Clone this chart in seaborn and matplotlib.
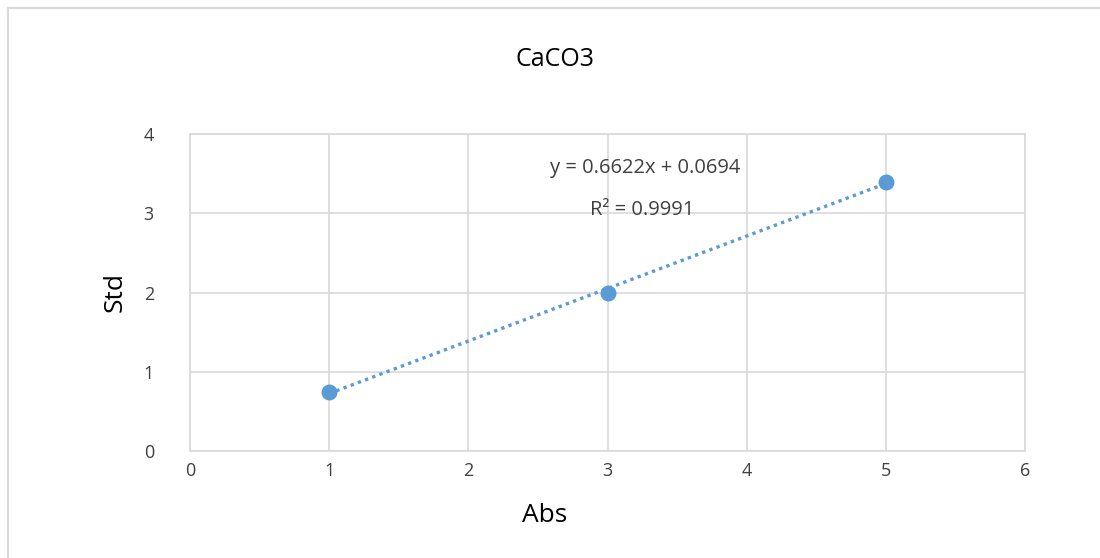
import matplotlib
matplotlib.use("Agg")
import matplotlib.pyplot as plt
import seaborn as sns
import numpy as np
import pandas as pd

abs_vals = [1, 3, 5]
std_vals = [0.75, 2.0, 3.4]
x_ticks = [0, 1, 2, 3, 4, 5, 6]
y_ticks = [0, 1, 2, 3, 4]
title = "CaCO3"
eq_text = "y = 0.6622x + 0.0694"
r2_text = "R² = 0.9991"

sns.set_theme(style="white")
plt.rcParams['font.family'] = ['Open Sans', 'DejaVu Sans']

df = pd.DataFrame({"Abs": abs_vals, "Std": std_vals})
color = "#5B9BD5"
grid_c = "#D9D9D9"

fig = plt.figure(figsize=(11, 5.58), dpi=100)
ax = fig.add_axes([190/1100, 1-451/558, 835/1100, 317/558])

sns.regplot(data=df, x="Abs", y="Std", ax=ax, ci=None, truncate=True,
            scatter_kws=dict(s=110, color=color, edgecolor=color, zorder=4, alpha=1),
            line_kws=dict(color=color, linestyle=(0, (1, 1.3)), linewidth=2.4, zorder=3))

ax.set_xlim(0, 6)
ax.set_ylim(0, 4)
ax.set_xticks(x_ticks)
ax.set_yticks(y_ticks)
ax.grid(True, color=grid_c, linewidth=1.2)
ax.set_axisbelow(True)
for s in ax.spines.values():
    s.set_color(grid_c)
    s.set_linewidth(1.2)
ax.tick_params(axis='both', length=0, labelsize=13, colors="#404040")
ax.tick_params(axis='x', pad=8)
ax.tick_params(axis='y', pad=26)

ax.set_xlabel("Abs", fontsize=19, color="black")
ax.set_ylabel("Std", fontsize=19, color="black")
ax.xaxis.set_label_coords((545-190)/835, -(515-451)/317)
ax.yaxis.set_label_coords(-(190-115)/835, 0.5)
ax.xaxis.label.set_va("center")
ax.yaxis.label.set_va("center")

fig.text(555/1100, 1-60/558, title, ha="center", va="center", fontsize=18, color="black")

ax.text(3.27, 3.57, eq_text, ha="center", va="center", fontsize=14.5, color="#404040")
ax.text(3.25, 3.04, r2_text, ha="center", va="center", fontsize=14.5, color="#404040")

# chart frame (left and top edges)
fig.add_artist(plt.Line2D([8/1100, 8/1100], [0, 1-8/558], color="#D9D9D9", linewidth=1.5, transform=fig.transFigure))
fig.add_artist(plt.Line2D([8/1100, 1], [1-8/558, 1-8/558], color="#D9D9D9", linewidth=1.5, transform=fig.transFigure))

fig.savefig("out.png", dpi=100)
